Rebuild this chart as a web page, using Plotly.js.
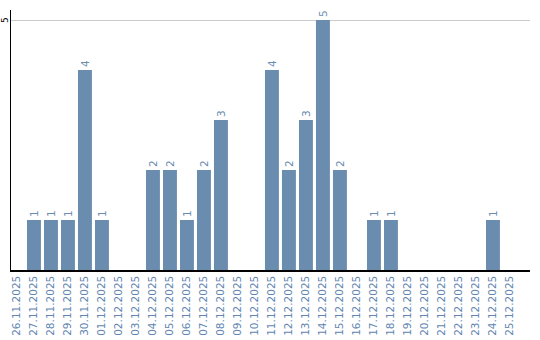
<!DOCTYPE html>
<html><head><meta charset="utf-8">
<script src="https://cdn.plot.ly/plotly-3.0.1.min.js"></script>
<style>html,body{margin:0;padding:0;background:#fff}#chart{width:540px;height:340px}</style>
</head><body><div id="chart"></div>
<script>
const dates = ["26.11.2025","27.11.2025","28.11.2025","29.11.2025","30.11.2025","01.12.2025","02.12.2025","03.12.2025","04.12.2025","05.12.2025","06.12.2025","07.12.2025","08.12.2025","09.12.2025","10.12.2025","11.12.2025","12.12.2025","13.12.2025","14.12.2025","15.12.2025","16.12.2025","17.12.2025","18.12.2025","19.12.2025","20.12.2025","21.12.2025","22.12.2025","23.12.2025","24.12.2025","25.12.2025"];
const counts = [0,1,1,1,4,1,0,0,2,2,1,2,3,0,0,4,2,3,5,2,0,1,1,0,0,0,0,0,1,0];
const yTicks = [5];

const barColor = '#6a8caf';
const labelColor = '#6a8caf';
const font = 'DejaVu Sans, sans-serif';

Plotly.newPlot('chart', [{
  type: 'bar',
  x: dates,
  y: counts,
  text: counts.map(v => v > 0 ? String(v) : ''),
  textposition: 'outside',
  textangle: -90,
  cliponaxis: false,
  textfont: {family: font, size: 10.5, color: labelColor},
  marker: {color: barColor},
  width: 0.82,
  hoverinfo: 'none'
}], {
  width: 540, height: 340,
  margin: {l: 11, r: 10, t: 10, b: 70, pad: 0},
  paper_bgcolor: '#fff', plot_bgcolor: '#fff',
  showlegend: false,
  xaxis: {
    type: 'category',
    range: [-0.35, 30.18],
    tickangle: -90,
    tickfont: {family: font, size: 10.5, color: '#5f86b0'},
    showline: true, linecolor: '#000', linewidth: 1.5,
    showgrid: false, ticks: '', zeroline: false
  },
  yaxis: {
    range: [0, 5.2],
    tickvals: yTicks,
    showticklabels: false,
    showline: true, linecolor: '#000', linewidth: 1.5,
    showgrid: true, gridcolor: '#cccccc', gridwidth: 1,
    ticks: '', zeroline: false
  },
  annotations: yTicks.map(v => ({
    xref: 'paper', yref: 'y', x: 0, y: v,
    xanchor: 'center', yanchor: 'middle', xshift: -6,
    text: String(v), textangle: -90, showarrow: false,
    font: {family: font, size: 9, color: '#000'}
  }))
}, {staticPlot: true, displayModeBar: false});
</script></body></html>
